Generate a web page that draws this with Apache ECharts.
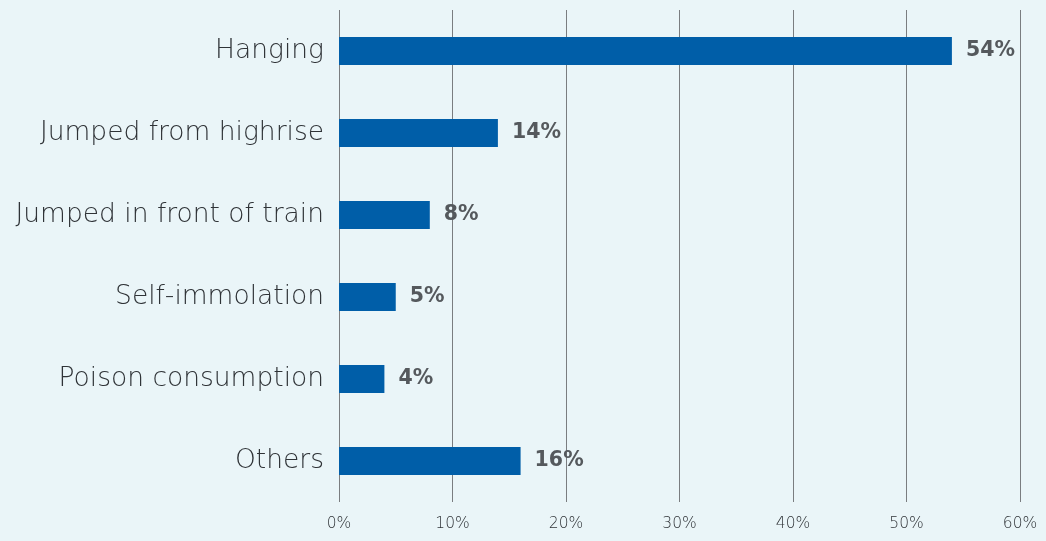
<!DOCTYPE html>
<html>
<head>
<meta charset="utf-8">
<script src="https://cdn.jsdelivr.net/npm/echarts@6/dist/echarts.min.js"></script>
<style>
  html, body { margin: 0; padding: 0; background: #eaf5f8; }
  #chart { width: 1046px; height: 541px; }
</style>
</head>
<body>
<div id="chart"></div>
<script>
// Methods of suicide, share of cases (%)
const categories = [
  'Hanging',
  'Jumped from highrise',
  'Jumped in front of train',
  'Self-immolation',
  'Poison consumption',
  'Others'
];
const shares = [54, 14, 8, 5, 4, 16];
const tickMax = 60;
const tickStep = 10;

const chart = echarts.init(document.getElementById('chart'));
chart.setOption({
  backgroundColor: '#eaf5f8',
  animation: false,
  textStyle: { fontFamily: '"DejaVu Sans", sans-serif' },
  grid: { left: 339, right: 26, top: 10, bottom: 39, containLabel: false },
  xAxis: {
    type: 'value',
    min: 0,
    max: tickMax,
    interval: tickStep,
    axisLine: { show: false },
    axisTick: { show: false },
    splitLine: { show: true, lineStyle: { color: '#7a7d80', width: 1 } },
    axisLabel: {
      formatter: '{value}%',
      color: '#2f3337',
      fontSize: 15.5,
      fontWeight: 200,
      margin: 14
    }
  },
  yAxis: {
    type: 'category',
    data: categories,
    inverse: true,
    axisLine: { show: false },
    axisTick: { show: false },
    axisLabel: {
      color: '#2f3337',
      fontSize: 26.5,
      fontWeight: 200,
      margin: 15
    }
  },
  series: [{
    type: 'bar',
    data: shares,
    barWidth: 28,
    itemStyle: { color: '#005ea8' },
    label: {
      show: true,
      position: 'right',
      distance: 14,
      formatter: '{c}%',
      color: '#55595d',
      fontSize: 20.5,
      fontWeight: 'bold'
    }
  }]
});
</script>
</body>
</html>
